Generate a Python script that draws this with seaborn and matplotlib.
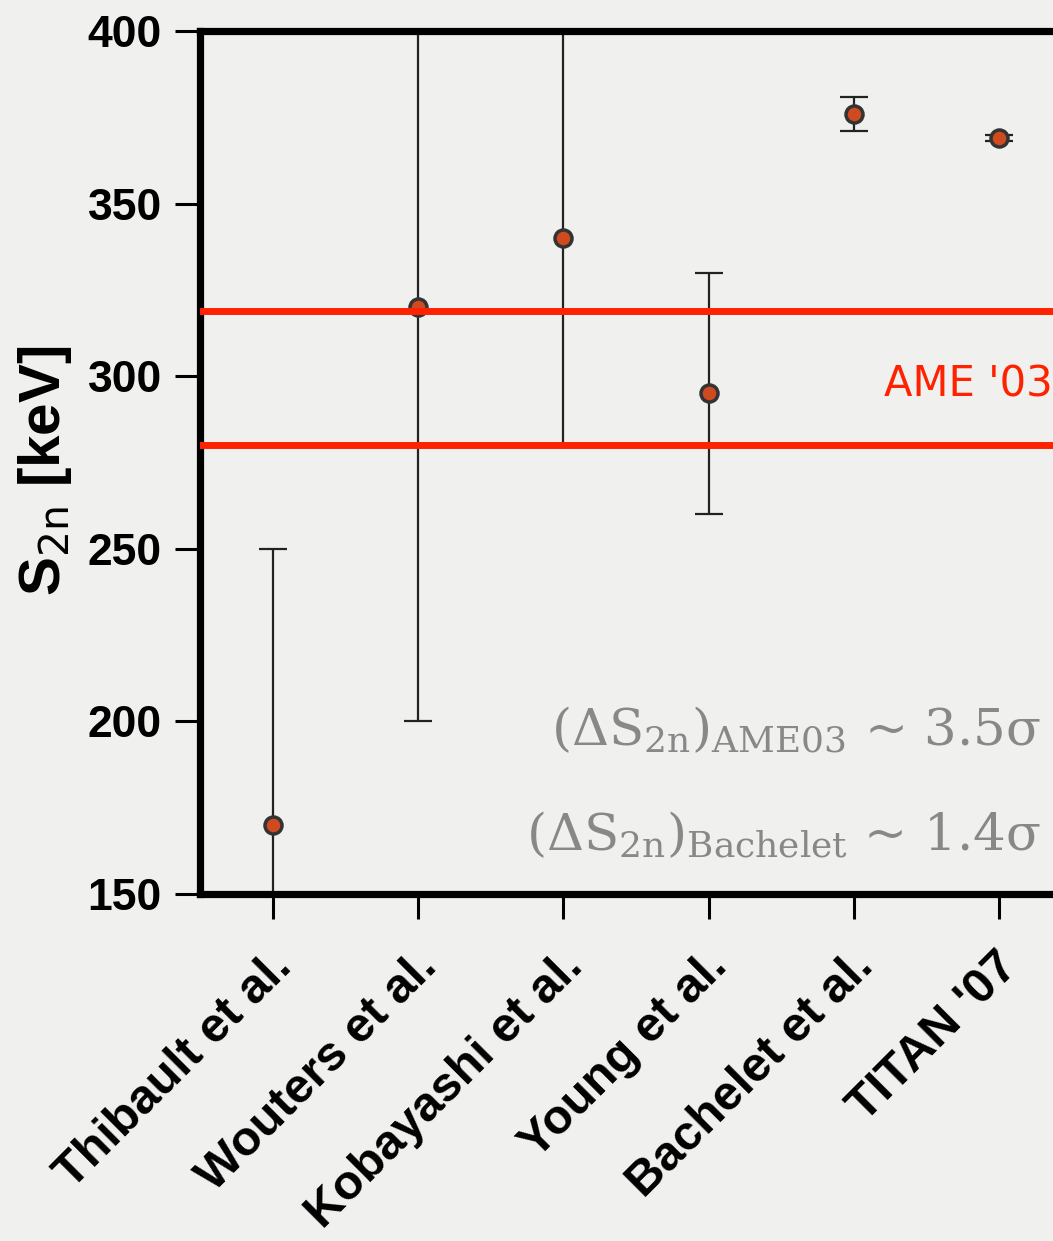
import matplotlib
matplotlib.use("Agg")
import matplotlib.pyplot as plt
import matplotlib.transforms as mtransforms
import seaborn as sns
import pandas as pd

# Two-neutron separation energy measurements
labels = ["Thibault et al.", "Wouters et al.", "Kobayashi et al.",
          "Young et al.", "Bachelet et al.", "TITAN '07"]
s2n = [170, 320, 340, 295, 376, 369]
s2n_err = [80, 120, 60, 35, 5, 1]

# AME 2003 one-sigma band
ame03_band = [280, 319]

yticks = [150, 200, 250, 300, 350, 400]

sns.set_style("ticks")
plt.rcParams["font.family"] = ["Liberation Sans", "DejaVu Sans"]
plt.rcParams["text.color"] = "black"
plt.rcParams["axes.labelcolor"] = "black"
plt.rcParams["xtick.color"] = "black"
plt.rcParams["ytick.color"] = "black"
plt.rcParams["mathtext.fontset"] = "dejavuserif"

bg = "#f0f0ee"
grey = "#888888"
fig = plt.figure(figsize=(10.53, 12.41), dpi=100, facecolor=bg)
W, H = 1053, 1241
left_px, top_px, bottom_px, right_px = 199.5, 31, 894, 1110
ax = fig.add_axes([left_px / W, 1 - bottom_px / H,
                   (right_px - left_px) / W, (bottom_px - top_px) / H])
ax.set_facecolor(bg)

df = pd.DataFrame({"source": labels, "s2n": s2n, "err": s2n_err})
df["pos"] = range(len(df))

ax.errorbar(df["pos"], df["s2n"], yerr=df["err"], fmt="none",
            ecolor="#222222", elinewidth=1.6, capsize=10, capthick=1.6,
            zorder=2)
sns.scatterplot(data=df, x="pos", y="s2n", ax=ax, s=150,
                color="#cf4a1f", edgecolor="#333333", linewidth=2.5,
                zorder=3, legend=False)

for yv in ame03_band:
    ax.axhline(yv, color="#ff2200", lw=5, zorder=4)

ax.text(4.208, 294, "AME '03", color="#ff2200", fontsize=30,
        family="DejaVu Sans", va="baseline", ha="left")

# tension annotations
ax.text(5.285, 192.9,
        r"$(\Delta\mathrm{S}_{\mathrm{2n}})_{\mathrm{AME03}}$ ~ 3.5σ",
        color=grey, fontsize=37, family="DejaVu Serif",
        ha="right", va="baseline", zorder=5)
ax.text(5.285, 162.5,
        r"$(\Delta\mathrm{S}_{\mathrm{2n}})_{\mathrm{Bachelet}}$ ~ 1.4σ",
        color=grey, fontsize=37, family="DejaVu Serif",
        ha="right", va="baseline", zorder=5)

ax.set_xlim((left_px - 273) / 145.2, (right_px - 273) / 145.2)
ax.set_ylim(150, 400)
ax.set_yticks(yticks)
ax.set_yticklabels([str(t) for t in yticks], fontsize=32, fontweight="bold")
ax.set_xticks(df["pos"])
ax.set_xticklabels(labels, rotation=45, ha="right", va="center",
                   rotation_mode="anchor", fontsize=35, fontweight="bold")
ax.tick_params(axis="both", direction="out", length=18, width=2.2,
               color="black")
ax.tick_params(axis="y", pad=9)
ax.tick_params(axis="x", pad=29)

# nudge the slanted category labels slightly to the right
shift = mtransforms.ScaledTranslation(12 / 100, 0, fig.dpi_scale_trans)
for lab in ax.get_xticklabels():
    lab.set_transform(lab.get_transform() + shift)

ax.set_xlabel("")
ax.set_ylabel(r"S$_{\mathsf{2n}}$ [keV]", fontsize=42, fontweight="bold")
ax.yaxis.set_label_coords(-0.138, 0.49)

for side in ["left", "top", "bottom"]:
    ax.spines[side].set_visible(True)
    ax.spines[side].set_linewidth(5.2)
    ax.spines[side].set_color("black")
ax.spines["right"].set_visible(False)

fig.savefig("out.png", dpi=100, facecolor=bg)
